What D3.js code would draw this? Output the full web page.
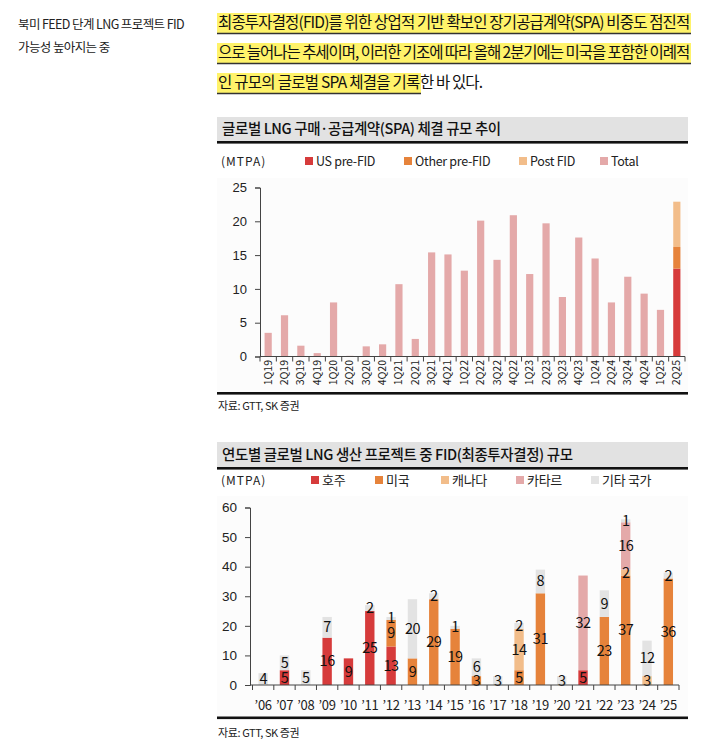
<!DOCTYPE html>
<html><head><meta charset="utf-8">
<script src="https://cdn.jsdelivr.net/npm/d3@7"></script>
<style>
body{margin:0;background:#fff}
svg{display:block;font-family:"Noto Sans CJK KR","Noto Sans",sans-serif}
</style>
</head><body>
<svg id="c" width="721" height="749"></svg>
<script>
// ---------- DATA ----------
const sideTitle = ["북미 FEED 단계 LNG 프로젝트 FID", "가능성 높아지는 중"];
const paraLines = [
  "최종투자결정(FID)를 위한 상업적 기반 확보인 장기공급계약(SPA) 비중도 점진적",
  "으로 늘어나는 추세이며, 이러한 기조에 따라 올해 2분기에는 미국을 포함한 이례적",
  "인 규모의 글로벌 SPA 체결을 기록"
];
const paraTail = "한 바 있다.";

const chart1Title = "글로벌 LNG 구매·공급계약(SPA) 체결 규모 추이";
const quarters = ["1Q19","2Q19","3Q19","4Q19","1Q20","2Q20","3Q20","4Q20","1Q21","2Q21","3Q21","4Q21",
  "1Q22","2Q22","3Q22","4Q22","1Q23","2Q23","3Q23","4Q23","1Q24","2Q24","3Q24","4Q24","1Q25","2Q25"];
const usPreFid    = [0,0,0,0,0,0,0,0,0,0,0,0,0,0,0,0,0,0,0,0,0,0,0,0,0,13.0];
const otherPreFid = [0,0,0,0,0,0,0,0,0,0,0,0,0,0,0,0,0,0,0,0,0,0,0,0,0,3.2];
const postFid     = [0,0,0,0,0,0,0,0,0,0,0,0,0,0,0,0,0,0,0,0,0,0,0,0,0,6.7];
const spaTotal    = [3.5,6.1,1.6,0.5,8.0,0.1,1.5,1.8,10.7,2.6,15.4,15.1,12.7,20.1,14.3,20.9,12.2,19.7,8.8,17.6,14.5,8.0,11.8,9.3,6.9,0];
const spaSeries = ["US pre-FID","Other pre-FID","Post FID","Total"];
const yTicks1 = [0,5,10,15,20,25];

const chart2Title = "연도별 글로벌 LNG 생산 프로젝트 중 FID(최종투자결정) 규모";
const years = ["’06","’07","’08","’09","’10","’11","’12","’13","’14","’15","’16","’17","’18","’19","’20","’21","’22","’23","’24","’25"];
const australia = [0,5,0,16,9,25,13,0,0,0,0,0,0,0,0,5,0,0,0,0];
const usa       = [0,0,0,0,0,0,9,9,29,19,3,0,5,31,0,0,23,37,0,36];
const canada    = [0,0,0,0,0,0,0,0,0,0,0,0,14,0,0,0,0,2,3,0];
const qatar     = [0,0,0,0,0,0,0,0,0,0,0,0,0,0,0,32,0,16,0,0];
const others    = [4,5,5,7,0,2,1,20,2,1,6,3,2,8,3,0,9,1,12,2];
const fidSeries = ["호주","미국","캐나다","카타르","기타 국가"];
const yTicks2 = [0,10,20,30,40,50,60];

const source = "자료: GTT, SK 증권";
const unit = "(MTPA)";

// ---------- STYLE ----------
const C = {red:"#d63b3b", orange:"#e6833b", light:"#f2bd8a", pink:"#e4a9a9", grey:"#e3e3e3"};
const spaColors = [C.red, C.orange, C.light, C.pink];
const fidColors = [C.red, C.orange, C.light, C.pink, C.grey];
const svg = d3.select("#c");
const ink = "#222";

// ---------- LEFT SIDE TITLE ----------
sideTitle.forEach((t,i)=>{
  svg.append("text").attr("x",18).attr("y",29+i*23).attr("font-size",12.5)
    .attr("letter-spacing","-0.6").attr("fill",ink).text(t);
});

// ---------- PARAGRAPH ----------
const pX = 218, pW = 472;
paraLines.forEach((t,i)=>{
  const yb = 28 + i*30;
  const g = svg.append("g");
  const hl = g.append("rect").attr("fill","#fff36a");
  const ul = g.append("line").attr("stroke","#333").attr("stroke-width",1.4);
  const tx = g.append("text").attr("x",pX).attr("y",yb).attr("font-size",15.5)
    .attr("fill","#111").attr("letter-spacing","-0.3").text(t);
  let w;
  if(i<2){ tx.attr("textLength",pW).attr("lengthAdjust","spacing"); w=pW; }
  else { tx.attr("textLength",202).attr("lengthAdjust","spacing"); w=202; }
  hl.attr("x",pX-1).attr("y",yb-15).attr("width",w+2).attr("height",20);
  ul.attr("x1",pX-1).attr("x2",pX+w+1).attr("y1",yb+5.5).attr("y2",yb+5.5);
  if(i===2){
    svg.append("text").attr("x",pX+w).attr("y",yb).attr("font-size",15.5).attr("fill","#111")
      .attr("textLength",63).attr("lengthAdjust","spacing").text(paraTail);
  }
});

// ---------- helper: title bar ----------
function titleBar(y, h, text){
  svg.append("rect").attr("x",217).attr("y",y).attr("width",471).attr("height",h).attr("fill","#e2e2e2");
  svg.append("rect").attr("x",217).attr("y",y+h).attr("width",471).attr("height",2.6).attr("fill","#111");
  svg.append("text").attr("x",222).attr("y",y+h/2+5).attr("font-size",14.5).attr("font-weight",500)
    .attr("letter-spacing","-0.4").attr("fill","#111").text(text);
}
function bottomRule(y){
  svg.append("rect").attr("x",217).attr("y",y).attr("width",471).attr("height",2.6).attr("fill","#111");
}
function legend(y, names, colors, xs, fs){
  names.forEach((n,i)=>{
    svg.append("rect").attr("x",xs[i]).attr("y",y-5).attr("width",8).attr("height",8).attr("fill",colors[i]);
    svg.append("text").attr("x",xs[i]+11).attr("y",y+4).attr("font-size",fs).attr("fill",ink)
      .attr("letter-spacing","-0.3").text(n);
  });
}

// ================= CHART 1 =================
titleBar(117, 24, chart1Title);
svg.append("text").attr("x",221).attr("y",166).attr("font-size",12).attr("letter-spacing","1").attr("fill",ink).text(unit);
legend(162, spaSeries, spaColors, [305,404,519,600], 12.5);
svg.append("rect").attr("x",217).attr("y",178).attr("width",471).attr("height",214).attr("fill","#fcfcfc");

const x1 = d3.scaleBand().domain(quarters).range([260,685]).paddingInner(0.56).paddingOuter(0.28);
const y1 = d3.scaleLinear().domain([0,25]).range([356.5,187.5]);
const rows1 = quarters.map((q,i)=>({q, v:[usPreFid[i],otherPreFid[i],postFid[i],spaTotal[i]]}));
const stack1 = d3.stack().keys([0,1,2,3]).value((d,k)=>d.v[k])(rows1);
stack1.forEach((s,k)=>{
  svg.append("g").selectAll("rect").data(s.filter(d=>d[1]-d[0]>0)).join("rect")
    .attr("x",d=>x1(d.data.q)).attr("width",x1.bandwidth())
    .attr("y",d=>y1(d[1])).attr("height",d=>y1(d[0])-y1(d[1]))
    .attr("fill",spaColors[k]);
});
// y axis
const ya1 = svg.append("g").attr("transform","translate(260,0)")
  .call(d3.axisLeft(y1).tickValues(yTicks1).tickSize(5).tickPadding(8));
ya1.select(".domain").attr("stroke","#444");
ya1.selectAll(".tick line").attr("stroke","#444");
ya1.selectAll("text").attr("font-size",13).attr("fill",ink).attr("font-family","inherit");
// x axis with ticks at band boundaries
svg.append("line").attr("x1",260).attr("x2",685).attr("y1",356.5).attr("y2",356.5).attr("stroke","#444");
const step1 = x1.step(), start1 = 260;
d3.range(quarters.length+1).forEach(i=>{
  const xx = start1 + i*(425/quarters.length);
  svg.append("line").attr("x1",xx).attr("x2",xx).attr("y1",356.5).attr("y2",361.5).attr("stroke","#444");
});
svg.append("g").selectAll("text").data(quarters).join("text")
  .attr("transform",d=>`translate(${x1(d)+x1.bandwidth()/2+3.5},360) rotate(-90)`)
  .attr("text-anchor","end").attr("font-size",10.5).attr("fill",ink).text(d=>d);
bottomRule(392);
svg.append("text").attr("x",218).attr("y",410).attr("font-size",11).attr("letter-spacing","-0.4").attr("fill",ink).text(source);

// ================= CHART 2 =================
titleBar(442, 25, chart2Title);
svg.append("text").attr("x",221).attr("y",485).attr("font-size",12).attr("letter-spacing","1").attr("fill",ink).text(unit);
legend(481, fidSeries, fidColors, [311,375,441,516,591], 13);
svg.append("rect").attr("x",217).attr("y",496).attr("width",471).attr("height",220).attr("fill","#fcfcfc");

const x2 = d3.scaleBand().domain(years).range([252.5,679]).paddingInner(0.56).paddingOuter(0.28);
const y2 = d3.scaleLinear().domain([0,60]).range([685,507.5]);
const rows2 = years.map((yy,i)=>({yy, v:[australia[i],usa[i],canada[i],qatar[i],others[i]]}));
const stack2 = d3.stack().keys([0,1,2,3,4]).value((d,k)=>d.v[k])(rows2);
stack2.forEach((s,k)=>{
  const segs = s.filter(d=>d[1]-d[0]>0);
  svg.append("g").selectAll("rect").data(segs).join("rect")
    .attr("x",d=>x2(d.data.yy)).attr("width",x2.bandwidth())
    .attr("y",d=>y2(d[1])).attr("height",d=>y2(d[0])-y2(d[1]))
    .attr("fill",fidColors[k]);
});
stack2.forEach((s,k)=>{
  const segs = s.filter(d=>d[1]-d[0]>0);
  svg.append("g").selectAll("text").data(segs).join("text")
    .attr("x",d=>x2(d.data.yy)+x2.bandwidth()/2)
    .attr("y",d=>y2((d[0]+d[1])/2)+5)
    .attr("text-anchor","middle").attr("font-size",14.5).attr("fill","#111")
    .attr("letter-spacing","-0.5")
    .text(d=>d3.format("d")(d[1]-d[0]));
});
const ya2 = svg.append("g").attr("transform","translate(250,0)")
  .call(d3.axisLeft(y2).tickValues(yTicks2).tickSize(5).tickPadding(8));
ya2.select(".domain").attr("stroke","#444");
ya2.selectAll(".tick line").attr("stroke","#444");
ya2.selectAll("text").attr("font-size",13.5).attr("fill",ink).attr("font-family","inherit");
svg.append("line").attr("x1",250).attr("x2",679).attr("y1",685).attr("y2",685).attr("stroke","#444");
d3.range(years.length+1).forEach(i=>{
  const xx = 252.5 + i*((679-252.5)/years.length);
  svg.append("line").attr("x1",xx).attr("x2",xx).attr("y1",685).attr("y2",690).attr("stroke","#444");
});
svg.append("g").selectAll("text").data(years).join("text")
  .attr("x",d=>x2(d)+x2.bandwidth()/2).attr("y",710)
  .attr("text-anchor","middle").attr("font-size",13).attr("letter-spacing","-0.3").attr("fill",ink).text(d=>d);
bottomRule(716.5);
svg.append("text").attr("x",218).attr("y",737).attr("font-size",11).attr("letter-spacing","-0.4").attr("fill",ink).text(source);
</script>
</body></html>
